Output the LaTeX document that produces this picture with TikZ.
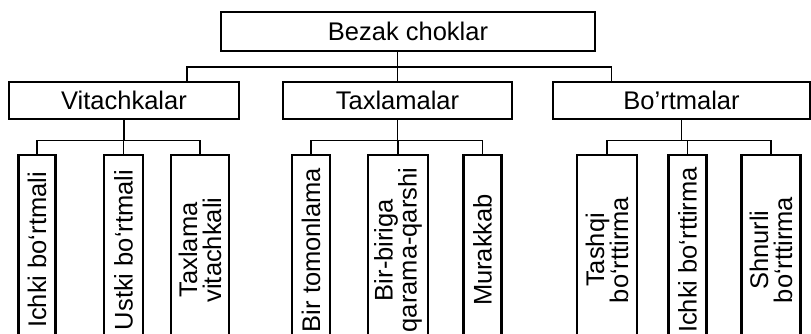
\documentclass[tikz,border=0pt]{standalone}
\usepackage{fontspec}
\setmainfont{Liberation Sans}
\usetikzlibrary{positioning}

\tikzset{
  box/.style={draw, line width=2.4pt, inner sep=0pt, align=center,
    font=\fontsize{25.5pt}{24pt}\selectfont},
  leaf/.style={box, rotate=90, minimum width=190pt, minimum height=#1},
  conn/.style={line width=1.3pt}
}

\begin{document}
\begin{tikzpicture}[x=1pt, y=-1pt]
    \useasboundingbox (0,0) rectangle (811,333);
    \clip (0,0) rectangle (811,333);
    \node[box, minimum width=374pt, minimum height=39pt] (root) at (408,31.5) {Bezak choklar};
    \node[box, minimum width=230pt, minimum height=37pt] (vit) at (124,100.5) {Vitachkalar};
    \node[box, minimum width=229pt, minimum height=37pt] (tax) at (397.5,100.5) {Taxlamalar};
    \node[box, minimum width=257pt, minimum height=37pt] (bort) at (681.5,100.5) {Bo’rtmalar};
    % vitachkalar
    \node[leaf=37pt] (v1) at (37,250) {Ichki bo‘rtmali};
    \node[leaf=39pt] (v2) at (123.5,250) {Ustki bo‘rtmali};
    \node[leaf=58pt] (v3) at (200,250) {Taxlama\\vitachkali};
    % taxlamalar
    \node[leaf=38pt] (t1) at (311,250) {Bir tomonlama};
    \node[leaf=60pt] (t2) at (398,250) {Bir-biriga\\qarama-qarshi};
    \node[leaf=38pt] (t3) at (482.5,250) {Murakkab};
    % bo'rtmalar
    \node[leaf=60pt] (b1) at (607,250) {Tashqi\\bo‘rttirma};
    \node[leaf=38pt] (b2) at (687.5,250) {Ichki bo‘rttirma};
    \node[leaf=59pt] (b3) at (771,250) {Shnurli\\bo‘rttirma};
    % connectors
    \coordinate (split) at (398,67);
    \draw[conn] (root.south -| tax.north) -- (tax.north);
    \draw[conn] ([xshift=63pt]vit.north) |- (split) -| ([xshift=-70pt]bort.north);
    \foreach \p/\c in {vit/v1, vit/v2, vit/v3, tax/t1, tax/t2, tax/t3, bort/b1, bort/b2, bort/b3}
      \draw[conn] (\p.south) -- ++(0,20) -| (\c.east);
\end{tikzpicture}
\end{document}
